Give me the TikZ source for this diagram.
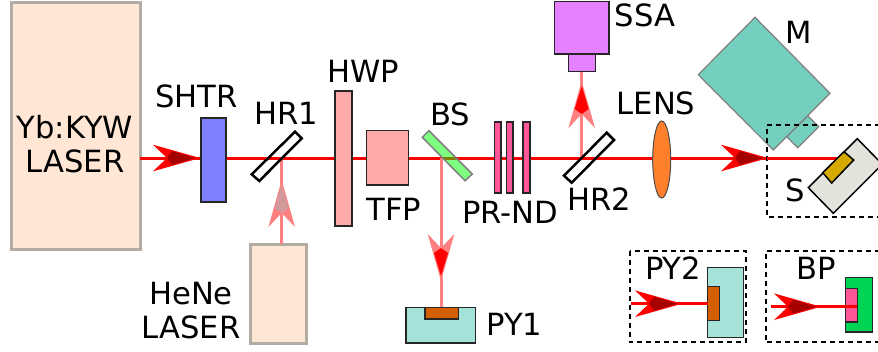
\documentclass[tikz,border=0pt]{standalone}
\usepackage{fontspec}
\usetikzlibrary{shapes.geometric}
\setmainfont{DejaVu Sans}
\definecolor{laserfill}{HTML}{FFE6D5}
\definecolor{laserline}{HTML}{B3ACA2}
\definecolor{pyfill}{HTML}{A4E2DA}
\definecolor{pycore}{HTML}{D45F00}
\definecolor{motor}{HTML}{74CFBE}
\tikzset{
  x=1pt,y=-1pt,
  lbl/.style={font=\fontsize{30.6}{34}\selectfont,inner sep=0pt,align=center,text=black},
  part/.style={draw=black!85,line width=1.5pt,inner sep=0pt,outer sep=0pt,rectangle},
  laser/.style={part,draw=laserline,line width=3pt,fill=laserfill},
  mainbeam/.style={draw=red,line width=3pt},
  palebeam/.style={draw=red!50,line width=3pt},
  dashbox/.style={draw=black,line width=2pt,dash pattern=on 5pt off 4pt},
  mirror/.style={draw=black,line width=2.5pt},
  pics/ahead/.style n args={2}{code={
    \fill[#1] (0,0) -- (-47,-13.3) -- (-33,0) -- (-47,13.3) -- cycle;
    \fill[#2] (-5,0) -- (-28,-7) -- (-33,0) -- (-28,7) -- cycle;
  }}
}
\begin{document}
\begin{tikzpicture}
\useasboundingbox (0,0) rectangle (878,351);
\clip (0,0) rectangle (878,351);
% junction points
\coordinate (hr1c) at (281.7,158);
\coordinate (bsc) at (441,158);
\coordinate (hr2c) at (581.7,158);
\coordinate (focus) at (840,158);
\coordinate (py2in) at (631,303.7);
\coordinate (bpin) at (770.7,306.7);
% sources and receivers (placed first, beams end on them)
\node[laser,minimum width=129,minimum height=247] (yb) at (75.5,125.5) {};
\node[laser,minimum width=55.3,minimum height=99] (hene) at (278.4,293.5) {};
\node[part,fill=pyfill,minimum width=69.7,minimum height=35.7] (py1) at (440.8,325.2) {};
\node[part,fill=pycore,minimum width=33.3,minimum height=11.7] (py1core) at (441.6,313.2) {};
\node[part,fill=pyfill,minimum width=36,minimum height=69.6] (py2) at (725.7,302.5) {};
\node[part,fill=pycore,minimum width=11.6,minimum height=33.6] (py2core) at (713.5,303.5) {};
\node[part,fill={rgb,255:red,0;green,212;blue,85},minimum width=26.6,minimum height=54.3] (bp) at (859,304.8) {};
\node[part,fill={rgb,255:red,255;green,85;blue,153},minimum width=11.6,minimum height=33.3] (bpcore) at (851.5,305.3) {};
\node[part,fill={rgb,255:red,229;green,128;blue,255},minimum width=54.7,minimum height=52.3] (ssa) at (581.7,27.8) {};
\node[part,fill={rgb,255:red,229;green,128;blue,255},minimum width=27.4,minimum height=17.7] (ssain) at (582,62.8) {};
% beams
\draw[mainbeam] (yb.east |- hr1c) -- (focus);
\draw[palebeam] (hene.north -| hr1c) -- (hr1c);
\draw[palebeam] (bsc) -- (py1core.north -| bsc);
\draw[palebeam] (hr2c) -- (ssain.south -| hr2c);
\draw[mainbeam] (py2in) -- (py2core.west |- py2in);
\draw[mainbeam] (bpin) -- (bpcore.east |- bpin);
% arrowheads
\pic at (200,158) {ahead={red}{red!65!black}};
\pic[rotate=90] at (281.7,180) {ahead={red!50}{red!55!black!40!white}};
\pic[rotate=-90] at (441,281) {ahead={red!50}{red}};
\pic[rotate=90] at (581.7,81) {ahead={red!50}{red}};
\pic at (768,158) {ahead={red}{red!65!black}};
\pic at (682,303.7) {ahead={red}{red!65!black}};
\pic at (821,306.7) {ahead={red}{red!65!black}};
% optics on the beam
\node[part,fill={rgb,255:red,128;green,128;blue,255},minimum width=25,minimum height=84] (shtr) at (213.5,160) {};
\node[part,fill={rgb,255:red,255;green,170;blue,170},minimum width=17,minimum height=135] (hwp) at (343.5,158.5) {};
\node[part,fill={rgb,255:red,255;green,170;blue,170},minimum width=41.6,minimum height=54.3] (tfp) at (387.5,157.8) {};
\foreach \nm/\px in {nd1/497.7,nd2/509.7,nd3/526.4}
  \node[part,fill={rgb,255:red,255;green,85;blue,153},minimum width=6.7,minimum height=70.7] (\nm) at (\px,157.4) {};
\node[ellipse,draw=black!70,line width=1pt,fill={rgb,255:red,255;green,127;blue,42},minimum width=18,minimum height=77,inner sep=0pt] (lens) at (661.7,159.5) {};
% mirrors and splitter
\draw[mirror] (251.7,174.3) -- (295,131.7) -- (301.7,138.3) -- (259.3,181) -- cycle;
\draw[mirror] (564,175.7) -- (606.7,132.7) -- (614,140) -- (571.7,182.7) -- cycle;
\draw[draw=gray,line width=1.5pt,fill=green,fill opacity=.5] (429,130.7) -- (422.3,137.3) -- (465,180.7) -- (472.3,174) -- cycle;
% M
\draw[draw=gray,line width=1.2pt,fill=motor] (786.7,136.7) -- (797.7,147.7) -- (818.7,126.7) -- (807.7,115.7) -- cycle;
\draw[draw=gray,line width=1.2pt,fill=motor] (755,17.3) -- (698.3,74.7) -- (773.3,150) -- (830,93.3) -- cycle;
% S
\draw[dashbox] (880,124.7) -- (767,124.7) -- (767,216.7) -- (880,216.7);
\draw[mainbeam] (767,158) -- (focus);
\draw[draw=black,line width=1.5pt,fill={rgb,255:red,227;green,227;blue,219}] (857.3,138.7) -- (808.3,187.7) -- (833.3,213.3) -- (882.3,164.3) -- cycle;
\draw[draw=black,line width=1.5pt,fill={rgb,255:red,212;green,170;blue,0}] (844,151.7) -- (822.7,172.7) -- (831.7,183) -- (853.7,160) -- cycle;
% dashed frames
\draw[dashbox] (630,250.7) rectangle (745.7,342.3);
\draw[dashbox] (880,250.7) -- (766,250.7) -- (766,342.3) -- (880,342.3);
% labels
\node[lbl] (tyb) at (75,144) {Yb:KYW\\LASER};
\node[lbl] (thene) at (191,311) {HeNe\\LASER};
\node[lbl] (tshtr) at (196.5,96) {SHTR};
\node[lbl] (thr1) at (286.5,113) {HR1};
\node[lbl] (thwp) at (363,71) {HWP};
\node[lbl] (ttfp) at (394,209) {TFP};
\node[lbl] (tbs) at (450,114) {BS};
\node[lbl] (tprnd) at (510,212) {PR-ND};
\node[lbl] (thr2) at (599,199) {HR2};
\node[lbl] (tlens) at (656,103) {LENS};
\node[lbl] (tssa) at (645,15) {SSA};
\node[lbl] (tm) at (799,32) {M};
\node[lbl] (ts) at (795,190) {S};
\node[lbl,anchor=west] (tpy1) at (486,324) {PY1};
\node[lbl] (tpy2) at (673,268) {PY2};
\node[lbl] (tbp) at (816.7,268) {BP};
\end{tikzpicture}
\end{document}
